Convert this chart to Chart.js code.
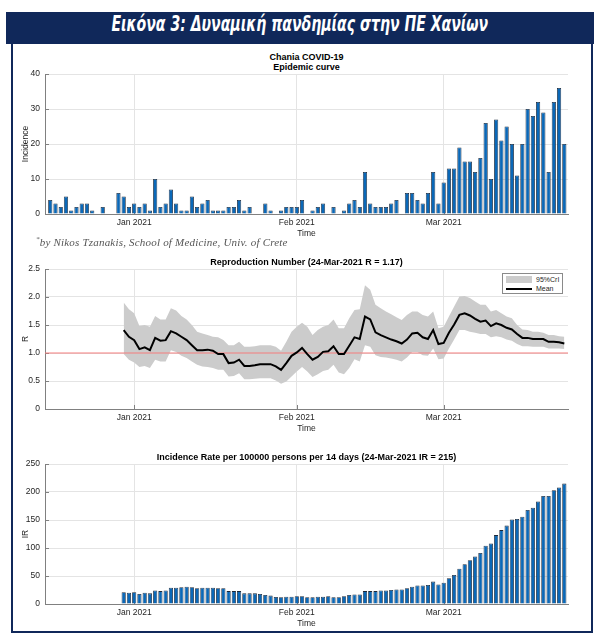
<!DOCTYPE html>
<html>
<head>
<meta charset="utf-8">
<script src="https://cdn.jsdelivr.net/npm/chart.js@4"></script>
<style>
  body { margin: 0; width: 600px; height: 641px; position: relative; background: #fff; overflow: hidden; }
  #frame { position: absolute; left: 11px; top: 42px; width: 578px; height: 587px; border: 2px solid #10285a; }
  #banner { position: absolute; left: 6px; top: 12px; width: 588px; height: 32px; background: #10285a;
            color: #fff; text-align: center; line-height: 32px;
            font: italic bold 21px "Liberation Sans Narrow", "DejaVu Sans Condensed", "Liberation Sans", sans-serif; }
  #banner span { display: inline-block; transform: scaleX(0.745); transform-origin: center; white-space: nowrap; }
  .ttl { position: absolute; left: 45px; width: 523px; text-align: center; color: #000;
         font: bold 9px "Liberation Sans", Arial, sans-serif; line-height: 10px; }
  .cv { position: absolute; left: 0; }
  #credit { position: absolute; left: 36px; top: 235px; color: #555;
            font: italic 11px "Liberation Serif", "DejaVu Serif", serif; letter-spacing: 0.2px; }
  #legend { position: absolute; left: 502px; top: 273px; width: 59px; height: 19px; border: 1px solid #8a8a8a;
            background: #fff; font: 7px "Liberation Sans", Arial, sans-serif; color: #262626; }
  #legend .row { position: absolute; left: 3px; height: 9px; }
  #legend .sw { position: absolute; left: 0; width: 26px; }
  #legend .lb { position: absolute; left: 30px; top: 0; line-height: 9px; white-space: nowrap; }
</style>
</head>
<body>
<div id="frame"></div>
<div id="banner"><span>Εικόνα 3: Δυναμική πανδημίας στην ΠΕ Χανίων</span></div>

<div class="ttl" style="top:52px">Chania COVID-19</div>
<div class="ttl" style="top:62px">Epidemic curve</div>
<canvas id="c1" class="cv" style="top:50px" width="600" height="200"></canvas>
<div id="credit"><sup style="font-size:7px">*</sup>by Nikos Tzanakis, School of Medicine, Univ. of Crete</div>

<div class="ttl" style="top:257px">Reproduction Number (24-Mar-2021 R = 1.17)</div>
<canvas id="c2" class="cv" style="top:250px" width="600" height="190"></canvas>
<div id="legend">
  <div class="row" style="top:1px"><div class="sw" style="top:1px;height:7px;background:#cccccc"></div><div class="lb">95%CrI</div></div>
  <div class="row" style="top:10px"><div class="sw" style="top:4px;height:2px;background:#000"></div><div class="lb">Mean</div></div>
</div>

<div class="ttl" style="top:452px">Incidence Rate per 100000 persons per 14 days (24-Mar-2021 IR = 215)</div>
<canvas id="c3" class="cv" style="top:440px" width="600" height="195"></canvas>

<script>
// day index 0 = 16 Dec 2020, last = 24 Mar 2021 (98)
const X_MIN = -1;
const X_MAX = 98.7;
const MONTH_TICKS = [16, 47, 75];
const MONTH_LABELS = ['Jan 2021', 'Feb 2021', 'Mar 2021'];

// daily new cases, 16 Dec 2020 .. 24 Mar 2021
const dailyCases = [
  4, 3, 2, 5, 1, 2, 3, 3, 1, 0, 2, 0, 0, 6, 5, 2,
  3, 2, 3, 1, 10, 2, 3, 7, 3, 1, 1, 5, 2, 3, 4, 1, 1, 1, 2, 2, 4, 1, 2, 0, 0, 3, 1, 0, 1, 2, 2,
  2, 4, 0, 1, 2, 3, 0, 2, 0, 1, 3, 4, 2, 12, 3, 2, 2, 2, 3, 4, 0, 6, 6, 4, 3, 6, 12, 3,
  9, 13, 13, 19, 15, 15, 12, 16, 26, 10, 27, 21, 25, 20, 11, 20, 30, 28, 32, 29, 12, 32, 36, 20
];

// R and IR series start on 30 Dec 2020 (day index 14)
const SERIES_START = 14;
const rMean = [
  1.41, 1.29, 1.23, 1.07, 1.10, 1.05, 1.27, 1.22, 1.23, 1.39,
  1.35, 1.29, 1.23, 1.14, 1.05, 1.05, 1.06, 1.04, 0.98, 0.98,
  0.82, 0.83, 0.88, 0.77, 0.77, 0.78, 0.80, 0.80, 0.80, 0.76,
  0.70, 0.82, 0.95, 1.01, 1.09, 0.98, 0.88, 0.93, 1.02, 1.03,
  1.12, 0.98, 0.98, 1.13, 1.28, 1.25, 1.65, 1.60, 1.37, 1.32,
  1.28, 1.24, 1.21, 1.17, 1.24, 1.35, 1.36, 1.28, 1.25, 1.41,
  1.16, 1.18, 1.36, 1.51, 1.68, 1.71, 1.67, 1.61, 1.56, 1.58,
  1.48, 1.53, 1.50, 1.45, 1.42, 1.34, 1.27, 1.27, 1.25, 1.25,
  1.25, 1.20, 1.20, 1.19, 1.17
];
const rUpper = [
  1.90, 1.78, 1.71, 1.48, 1.50, 1.47, 1.66, 1.60, 1.60, 1.80,
  1.76, 1.66, 1.60, 1.50, 1.38, 1.35, 1.32, 1.29, 1.28, 1.23,
  1.14, 1.14, 1.20, 1.11, 1.11, 1.12, 1.14, 1.14, 1.14, 1.11,
  1.04, 1.20, 1.38, 1.47, 1.54, 1.47, 1.32, 1.41, 1.47, 1.50,
  1.60, 1.44, 1.44, 1.62, 1.77, 1.78, 2.21, 2.13, 1.86, 1.80,
  1.74, 1.69, 1.64, 1.59, 1.68, 1.74, 1.74, 1.68, 1.65, 1.74,
  1.44, 1.47, 1.65, 1.83, 2.01, 2.02, 1.98, 1.92, 1.86, 1.86,
  1.74, 1.77, 1.71, 1.65, 1.62, 1.50, 1.42, 1.41, 1.38, 1.38,
  1.36, 1.32, 1.32, 1.30, 1.29
];
const rLower = [
  0.98, 0.88, 0.83, 0.75, 0.77, 0.73, 0.88, 0.85, 0.85, 1.05,
  1.02, 0.95, 0.91, 0.85, 0.79, 0.76, 0.75, 0.73, 0.70, 0.70,
  0.58, 0.59, 0.64, 0.53, 0.53, 0.54, 0.55, 0.55, 0.55, 0.51,
  0.45, 0.49, 0.58, 0.67, 0.75, 0.67, 0.57, 0.62, 0.68, 0.70,
  0.79, 0.65, 0.62, 0.73, 0.89, 0.85, 1.14, 1.11, 0.96, 0.93,
  0.92, 0.90, 0.88, 0.85, 0.92, 1.02, 1.02, 0.96, 0.95, 1.08,
  0.89, 0.90, 1.08, 1.24, 1.41, 1.41, 1.38, 1.36, 1.34, 1.34,
  1.28, 1.30, 1.28, 1.24, 1.22, 1.16, 1.12, 1.12, 1.11, 1.11,
  1.11, 1.08, 1.08, 1.08, 1.07
];
const R_THRESHOLD = 1;

// 14-day incidence rate per 100000
const incidenceRate = [
  21, 20, 21, 18, 20, 19, 24, 23, 24, 29,
  29, 30, 31, 30, 28, 29, 29, 29, 28, 28,
  23, 23, 23, 19, 19, 19, 18, 16, 15, 12.5,
  12, 13, 13, 14, 14, 12, 12, 13, 13, 14,
  12, 12, 14, 16, 17, 17, 23, 23, 23, 24,
  24, 25, 26, 26, 28, 31, 33, 33, 34, 40,
  35, 38, 46, 52, 63, 71, 78, 85, 91, 104,
  108, 123, 132, 140, 151, 152, 156, 168, 172, 183,
  193, 193, 203, 208, 215
];

const FONT = '"Liberation Sans", Arial, sans-serif';
const AXIS_COLOR = '#808080';
const GRID_COLOR = '#e4e4e4';
const TEXT_COLOR = '#262626';
const BAR_FILL = '#0a68b8';
const BAR_EDGE = '#1d2838';

Chart.defaults.font.family = FONT;
Chart.defaults.font.size = 8.5;
Chart.defaults.color = TEXT_COLOR;

const toPoints = (arr, start) => arr.map((v, i) => ({ x: start + i, y: v }));

// short tick marks drawn inwards, like the original figure
const inwardTicks = {
  id: 'inwardTicks',
  beforeDatasetsDraw(chart) {
    const { ctx, chartArea: a, scales: { x, y } } = chart;
    ctx.save();
    ctx.strokeStyle = AXIS_COLOR;
    ctx.lineWidth = 1;
    ctx.beginPath();
    x.ticks.forEach(t => {
      const px = Math.round(x.getPixelForValue(t.value)) + 0.5;
      ctx.moveTo(px, a.bottom); ctx.lineTo(px, a.bottom - 4);
    });
    y.ticks.forEach(t => {
      const py = Math.round(y.getPixelForValue(t.value)) + 0.5;
      ctx.moveTo(a.left, py); ctx.lineTo(a.left + 4, py);
    });
    ctx.stroke();
    ctx.restore();
  }
};

function xScale() {
  return {
    type: 'linear',
    min: X_MIN,
    max: X_MAX,
    offset: false,
    afterBuildTicks: s => { s.ticks = MONTH_TICKS.map(v => ({ value: v })); },
    afterFit: s => { s.height = 25; },
    ticks: {
      autoSkip: false, maxRotation: 0, padding: 4, color: TEXT_COLOR,
      callback: v => MONTH_LABELS[MONTH_TICKS.indexOf(v)]
    },
    grid: { color: GRID_COLOR, drawTicks: false, offset: false },
    border: { color: AXIS_COLOR },
    title: { display: true, text: 'Time', color: TEXT_COLOR, padding: 0, font: { size: 8.5 } }
  };
}

function yScale(max, step, label) {
  return {
    min: 0, max: max,
    afterFit: s => { s.width = 24; },
    ticks: { stepSize: step, padding: 5, color: TEXT_COLOR },
    grid: { color: GRID_COLOR, drawTicks: false },
    border: { color: AXIS_COLOR },
    title: { display: true, text: label, color: TEXT_COLOR, padding: 0, font: { size: 8.5 } }
  };
}

function baseOptions(padTop, padBottom, yMax, yStep, yLabel) {
  return {
    responsive: false,
    animation: false,
    devicePixelRatio: 1,
    layout: { padding: { left: 21, right: 32, top: padTop, bottom: padBottom } },
    plugins: { legend: { display: false }, tooltip: { enabled: false } },
    scales: { x: xScale(), y: yScale(yMax, yStep, yLabel) }
  };
}

function barDataset(values, start) {
  return {
    data: toPoints(values, start),
    backgroundColor: BAR_FILL,
    borderColor: BAR_EDGE,
    borderWidth: 0.8,
    barPercentage: 0.8,
    categoryPercentage: 1
  };
}

new Chart(document.getElementById('c1'), {
  type: 'bar',
  data: { datasets: [barDataset(dailyCases, 0)] },
  options: baseOptions(24, 11, 40, 10, 'Incidence'),
  plugins: [inwardTicks]
});

// dataset 0 is drawn last (on top), the band first
new Chart(document.getElementById('c2'), {
  type: 'line',
  data: {
    datasets: [
      { label: 'Mean', data: toPoints(rMean, SERIES_START), borderColor: '#000', borderWidth: 2,
        pointRadius: 0, tension: 0, fill: false },
      { label: 'R = 1', data: [{ x: X_MIN, y: R_THRESHOLD }, { x: X_MAX, y: R_THRESHOLD }],
        borderColor: '#f47c7c', borderWidth: 1, pointRadius: 0, fill: false },
      { label: '95%CrI', data: toPoints(rUpper, SERIES_START), borderWidth: 0, borderColor: 'rgba(0,0,0,0)',
        backgroundColor: '#cccccc', pointRadius: 0, tension: 0, fill: '+1' },
      { label: 'lower', data: toPoints(rLower, SERIES_START), borderWidth: 0, borderColor: 'rgba(0,0,0,0)',
        pointRadius: 0, tension: 0, fill: false }
    ]
  },
  options: baseOptions(19, 6, 2.5, 0.5, 'R'),
  plugins: [inwardTicks]
});

new Chart(document.getElementById('c3'), {
  type: 'bar',
  data: { datasets: [barDataset(incidenceRate, SERIES_START)] },
  options: baseOptions(24, 6, 250, 50, 'IR'),
  plugins: [inwardTicks]
});
</script>
</body>
</html>
